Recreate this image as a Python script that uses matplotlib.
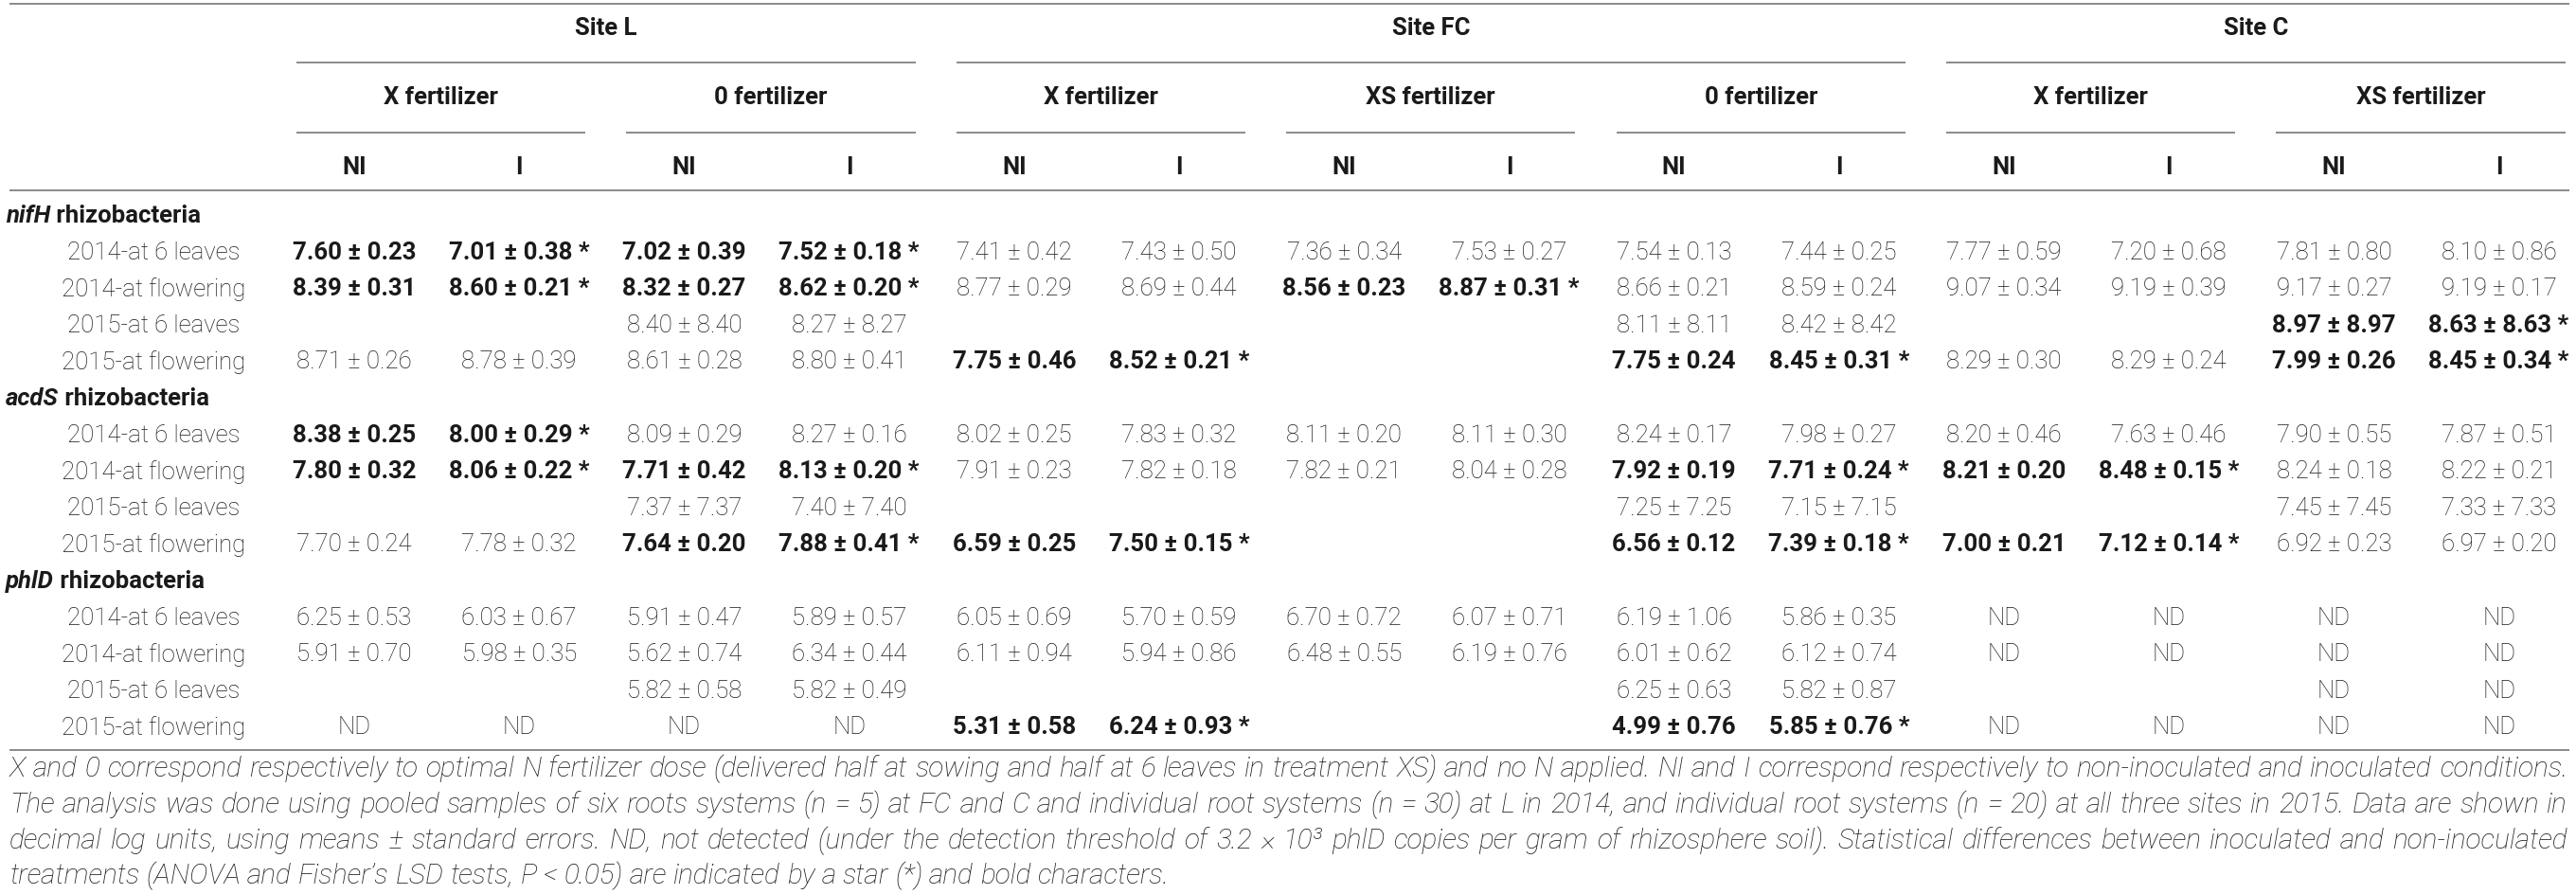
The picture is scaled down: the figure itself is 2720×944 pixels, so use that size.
import matplotlib
matplotlib.use("Agg")
import matplotlib.pyplot as plt

# ---------------- data ----------------
sites = ["Site L", "Site FC", "Site C"]
site_groups = [[0, 1], [2, 3, 4], [5, 6]]
fertilizers = ["X fertilizer", "0 fertilizer", "X fertilizer", "XS fertilizer",
               "0 fertilizer", "X fertilizer", "XS fertilizer"]
treatments = ["NI", "I"]
genes = ["nifH", "acdS", "phlD"]
stages = ["2014-at 6 leaves", "2014-at flowering", "2015-at 6 leaves", "2015-at flowering"]

nifH_cells = [
    ["7.60 ± 0.23", "7.01 ± 0.38 *", "7.02 ± 0.39", "7.52 ± 0.18 *", "7.41 ± 0.42", "7.43 ± 0.50", "7.36 ± 0.34",
     "7.53 ± 0.27", "7.54 ± 0.13", "7.44 ± 0.25", "7.77 ± 0.59", "7.20 ± 0.68", "7.81 ± 0.80", "8.10 ± 0.86"],
    ["8.39 ± 0.31", "8.60 ± 0.21 *", "8.32 ± 0.27", "8.62 ± 0.20 *", "8.77 ± 0.29", "8.69 ± 0.44", "8.56 ± 0.23",
     "8.87 ± 0.31 *", "8.66 ± 0.21", "8.59 ± 0.24", "9.07 ± 0.34", "9.19 ± 0.39", "9.17 ± 0.27", "9.19 ± 0.17"],
    ["", "", "8.40 ± 8.40", "8.27 ± 8.27", "", "", "", "", "8.11 ± 8.11", "8.42 ± 8.42", "", "",
     "8.97 ± 8.97", "8.63 ± 8.63 *"],
    ["8.71 ± 0.26", "8.78 ± 0.39", "8.61 ± 0.28", "8.80 ± 0.41", "7.75 ± 0.46", "8.52 ± 0.21 *", "", "",
     "7.75 ± 0.24", "8.45 ± 0.31 *", "8.29 ± 0.30", "8.29 ± 0.24", "7.99 ± 0.26", "8.45 ± 0.34 *"],
]
nifH_bold = [
    [1, 1, 1, 1, 0, 0, 0, 0, 0, 0, 0, 0, 0, 0],
    [1, 1, 1, 1, 0, 0, 1, 1, 0, 0, 0, 0, 0, 0],
    [0, 0, 0, 0, 0, 0, 0, 0, 0, 0, 0, 0, 1, 1],
    [0, 0, 0, 0, 1, 1, 0, 0, 1, 1, 0, 0, 1, 1],
]
acdS_cells = [
    ["8.38 ± 0.25", "8.00 ± 0.29 *", "8.09 ± 0.29", "8.27 ± 0.16", "8.02 ± 0.25", "7.83 ± 0.32", "8.11 ± 0.20",
     "8.11 ± 0.30", "8.24 ± 0.17", "7.98 ± 0.27", "8.20 ± 0.46", "7.63 ± 0.46", "7.90 ± 0.55", "7.87 ± 0.51"],
    ["7.80 ± 0.32", "8.06 ± 0.22 *", "7.71 ± 0.42", "8.13 ± 0.20 *", "7.91 ± 0.23", "7.82 ± 0.18", "7.82 ± 0.21",
     "8.04 ± 0.28", "7.92 ± 0.19", "7.71 ± 0.24 *", "8.21 ± 0.20", "8.48 ± 0.15 *", "8.24 ± 0.18", "8.22 ± 0.21"],
    ["", "", "7.37 ± 7.37", "7.40 ± 7.40", "", "", "", "", "7.25 ± 7.25", "7.15 ± 7.15", "", "",
     "7.45 ± 7.45", "7.33 ± 7.33"],
    ["7.70 ± 0.24", "7.78 ± 0.32", "7.64 ± 0.20", "7.88 ± 0.41 *", "6.59 ± 0.25", "7.50 ± 0.15 *", "", "",
     "6.56 ± 0.12", "7.39 ± 0.18 *", "7.00 ± 0.21", "7.12 ± 0.14 *", "6.92 ± 0.23", "6.97 ± 0.20"],
]
acdS_bold = [
    [1, 1, 0, 0, 0, 0, 0, 0, 0, 0, 0, 0, 0, 0],
    [1, 1, 1, 1, 0, 0, 0, 0, 1, 1, 1, 1, 0, 0],
    [0, 0, 0, 0, 0, 0, 0, 0, 0, 0, 0, 0, 0, 0],
    [0, 0, 1, 1, 1, 1, 0, 0, 1, 1, 1, 1, 0, 0],
]
phlD_cells = [
    ["6.25 ± 0.53", "6.03 ± 0.67", "5.91 ± 0.47", "5.89 ± 0.57", "6.05 ± 0.69", "5.70 ± 0.59", "6.70 ± 0.72",
     "6.07 ± 0.71", "6.19 ± 1.06", "5.86 ± 0.35", "ND", "ND", "ND", "ND"],
    ["5.91 ± 0.70", "5.98 ± 0.35", "5.62 ± 0.74", "6.34 ± 0.44", "6.11 ± 0.94", "5.94 ± 0.86", "6.48 ± 0.55",
     "6.19 ± 0.76", "6.01 ± 0.62", "6.12 ± 0.74", "ND", "ND", "ND", "ND"],
    ["", "", "5.82 ± 0.58", "5.82 ± 0.49", "", "", "", "", "6.25 ± 0.63", "5.82 ± 0.87", "", "", "ND", "ND"],
    ["ND", "ND", "ND", "ND", "5.31 ± 0.58", "6.24 ± 0.93 *", "", "", "4.99 ± 0.76", "5.85 ± 0.76 *",
     "ND", "ND", "ND", "ND"],
]
phlD_bold = [
    [0] * 14,
    [0] * 14,
    [0] * 14,
    [0, 0, 0, 0, 1, 1, 0, 0, 1, 1, 0, 0, 0, 0],
]
caption_lines = [
    "X and 0 correspond respectively to optimal N fertilizer dose (delivered half at sowing and half at 6 leaves "
    "in treatment XS) and no N applied. NI and I correspond respectively to non-inoculated and inoculated conditions.",
    "The analysis was done using pooled samples of six roots systems (n = 5) at FC and C and individual root "
    "systems (n = 30) at L in 2014, and individual root systems (n = 20) at all three sites in 2015. Data are shown in",
    "decimal log units, using means ± standard errors. ND, not detected (under the detection threshold of "
    "3.2 × 10³ phlD copies per gram of rhizosphere soil). Statistical differences between inoculated and non-inoculated",
    "treatments (ANOVA and Fisher’s LSD tests, P < 0.05) are indicated by a star (*) and bold characters.",
]

# ---------------- layout ----------------
W, H = 2720, 945
FONT = "Roboto"
FS = 18.5
TXT = "#1a1a1a"
LINEC = "#8a8a8a"

fig = plt.figure(figsize=(W / 100, H / 100), dpi=100)
ax = fig.add_axes([0, 0, 1, 1])
ax.set_xlim(0, W)
ax.set_ylim(H, 0)
ax.axis("off")
renderer = fig.canvas.get_renderer()

col_x0, col_dx = 374, 174.2
col_x = [col_x0 + col_dx * i for i in range(14)]
left_pad, right_pad = 61, 70
x_left, x_right = 10, 2713

y_site, y_fert, y_trt = 30, 103, 177
y_lines = [5, 67, 141, 202]
row_y0, row_dy = 228, 38.6
label_cx = 162


def hline(x0, x1, y, lw=1.4):
    ax.plot([x0, x1], [y, y], color=LINEC, lw=lw, solid_capstyle="butt")


def width_of(t):
    return t.get_window_extent(renderer=renderer).width


hline(x_left, x_right, y_lines[0])
hline(x_left, x_right, y_lines[3])

for g, name in enumerate(fertilizers):
    a, b = col_x[2 * g] - left_pad, min(col_x[2 * g + 1] + right_pad, x_right)
    hline(a, b, y_lines[2])
    ax.text((a + b) / 2, y_fert, name, ha="center", va="center", fontsize=FS,
            fontweight="bold", family=FONT, color=TXT)
    for k, tname in enumerate(treatments):
        ax.text(col_x[2 * g + k], y_trt, tname, ha="center", va="center", fontsize=FS,
                fontweight="bold", family=FONT, color=TXT)

for s, name in enumerate(sites):
    gs = site_groups[s]
    a = col_x[2 * gs[0]] - left_pad
    b = min(col_x[2 * gs[-1] + 1] + right_pad, x_right)
    hline(a, b, y_lines[1])
    ax.text((a + b) / 2, y_site, name, ha="center", va="center", fontsize=FS,
            fontweight="bold", family=FONT, color=TXT)

gene_cells = [nifH_cells, acdS_cells, phlD_cells]
gene_bold = [nifH_bold, acdS_bold, phlD_bold]
row = 0
for gi, gene in enumerate(genes):
    y = row_y0 + row_dy * row
    t1 = ax.text(6, y, gene, ha="left", va="center", fontsize=FS, fontweight="bold",
                 style="italic", family=FONT, color=TXT)
    w1 = width_of(t1)
    ax.text(6 + w1, y, " rhizobacteria", ha="left", va="center", fontsize=FS,
            fontweight="bold", family=FONT, color=TXT)
    row += 1
    for si, stage in enumerate(stages):
        y = row_y0 + row_dy * row
        ax.text(label_cx, y, stage, ha="center", va="center", fontsize=FS,
                fontweight="light", family=FONT, color=TXT)
        for ci, cell in enumerate(gene_cells[gi][si]):
            if not cell:
                continue
            bold = gene_bold[gi][si][ci]
            ax.text(col_x[ci], y, cell, ha="center", va="center", fontsize=FS,
                    fontweight="bold" if bold else "light", family=FONT, color=TXT)
        row += 1

y_bottom = 793
hline(x_left, x_right, y_bottom)

# caption (justified, font size fitted so spacing looks natural)
cap_y = [812, 850, 888, 925]
span = x_right - 2 - x_left


def cap_kw(fs):
    return dict(fontsize=fs, style="italic", fontweight="light", family=FONT, color=TXT,
                va="center", ha="left")


probe = ax.text(0, -200, max(caption_lines[:-1], key=len), **cap_kw(FS))
nat = max(width_of(ax.text(0, -200, ln, **cap_kw(FS))) for ln in caption_lines[:-1])
cap_fs = FS * span / nat * 0.992
for t in list(ax.texts):
    if t.get_position()[1] == -200:
        t.remove()

probe1 = ax.text(0, -100, "x x", **cap_kw(cap_fs))
probe2 = ax.text(0, -100, "xx", **cap_kw(cap_fs))
space_w = width_of(probe1) - width_of(probe2)
probe1.remove()
probe2.remove()

for li, line in enumerate(caption_lines):
    words = line.split(" ")
    ts = [ax.text(0, cap_y[li], w, **cap_kw(cap_fs)) for w in words]
    ws = [width_of(t) for t in ts]
    if li == len(caption_lines) - 1:
        gap = space_w
    else:
        gap = (span - sum(ws)) / (len(words) - 1)
    x = x_left
    for t, w in zip(ts, ws):
        t.set_x(x)
        x += w + gap

fig.savefig("out.png", dpi=100, facecolor="white")
